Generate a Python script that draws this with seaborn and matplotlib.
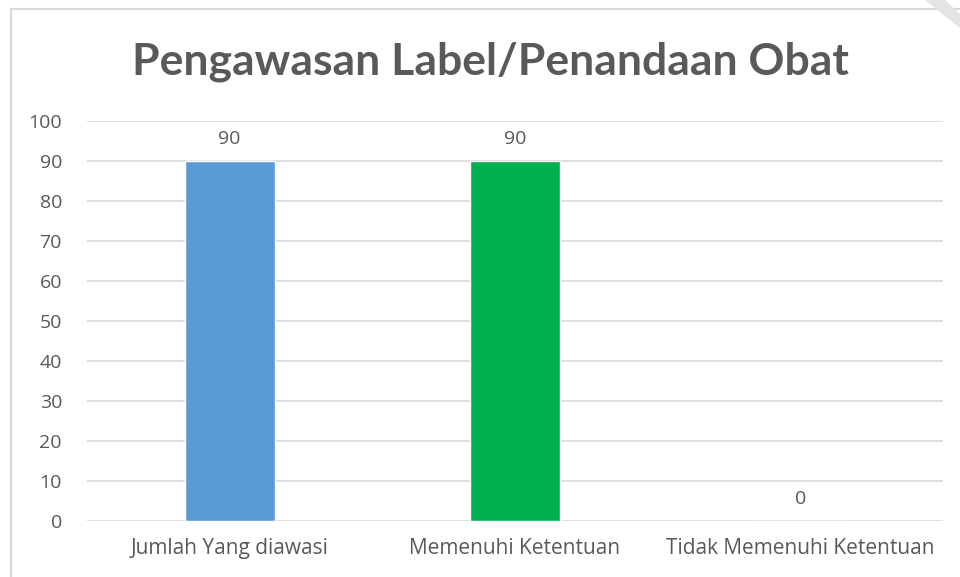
import matplotlib
matplotlib.use("Agg")
import matplotlib.pyplot as plt
import seaborn as sns
import pandas as pd
from matplotlib.patches import Rectangle, Polygon

categories = ["Jumlah Yang diawasi", "Memenuhi Ketentuan", "Tidak Memenuhi Ketentuan"]
values = [90, 90, 0]
colors = ["#5B9BD5", "#00B050", "#A5A5A5"]
yticks = [0, 10, 20, 30, 40, 50, 60, 70, 80, 90, 100]
title = "Pengawasan Label/Penandaan Obat"

sns.set_theme(style="white")
plt.rcParams['font.family'] = ['Open Sans', 'DejaVu Sans']

df = pd.DataFrame({"cat": categories, "val": values})

W, H = 960, 577
fig = plt.figure(figsize=(W / 100, H / 100), dpi=100)
fig.patch.set_facecolor("white")

# chart border
fig.patches.append(Rectangle((11 / W, -0.1), 1.2, (H - 9) / H + 0.1, transform=fig.transFigure,
                             fill=False, edgecolor="#D9D9D9", linewidth=1.5, zorder=0))
# faint decoration in top-right corner
fig.patches.append(Polygon([[925 / W, 1], [945 / W, 1], [960 / W, 1 - 14 / H], [960 / W, 1 - 28 / H]],
                           closed=True, transform=fig.transFigure, facecolor="#E4E4E4",
                           edgecolor="none", zorder=0))

ax = fig.add_axes([87 / W, (H - 521) / H, (943 - 87) / W, 400 / H])
sns.barplot(data=df, x="cat", y="val", hue="cat", palette=colors, width=0.315,
            legend=False, ax=ax, saturation=1, zorder=3)

ax.set_ylim(0, 100)
ax.set_yticks(yticks)
ax.set_xlim(-0.5, 2.5)
ax.grid(axis="y", color="#D9D9D9", linewidth=1.2, zorder=0)
ax.set_axisbelow(True)
for s in ax.spines.values():
    s.set_visible(False)
ax.set_xlabel("")
ax.set_ylabel("")
ax.tick_params(axis="y", length=0, labelsize=14, colors="#595959", pad=18)
ax.tick_params(axis="x", length=0, labelsize=15, colors="#595959", pad=12)

for i, v in enumerate(values):
    ax.text(i, v + 3.2, f"{v}", ha="center", va="bottom", fontsize=14, color="#595959")

fig.text(490 / W, 1 - 62 / H, title, ha="center", va="center", fontsize=32,
         fontweight="bold", color="#595959", family=["Lato", "DejaVu Sans"])

fig.savefig("out.png", dpi=100, facecolor="white")
